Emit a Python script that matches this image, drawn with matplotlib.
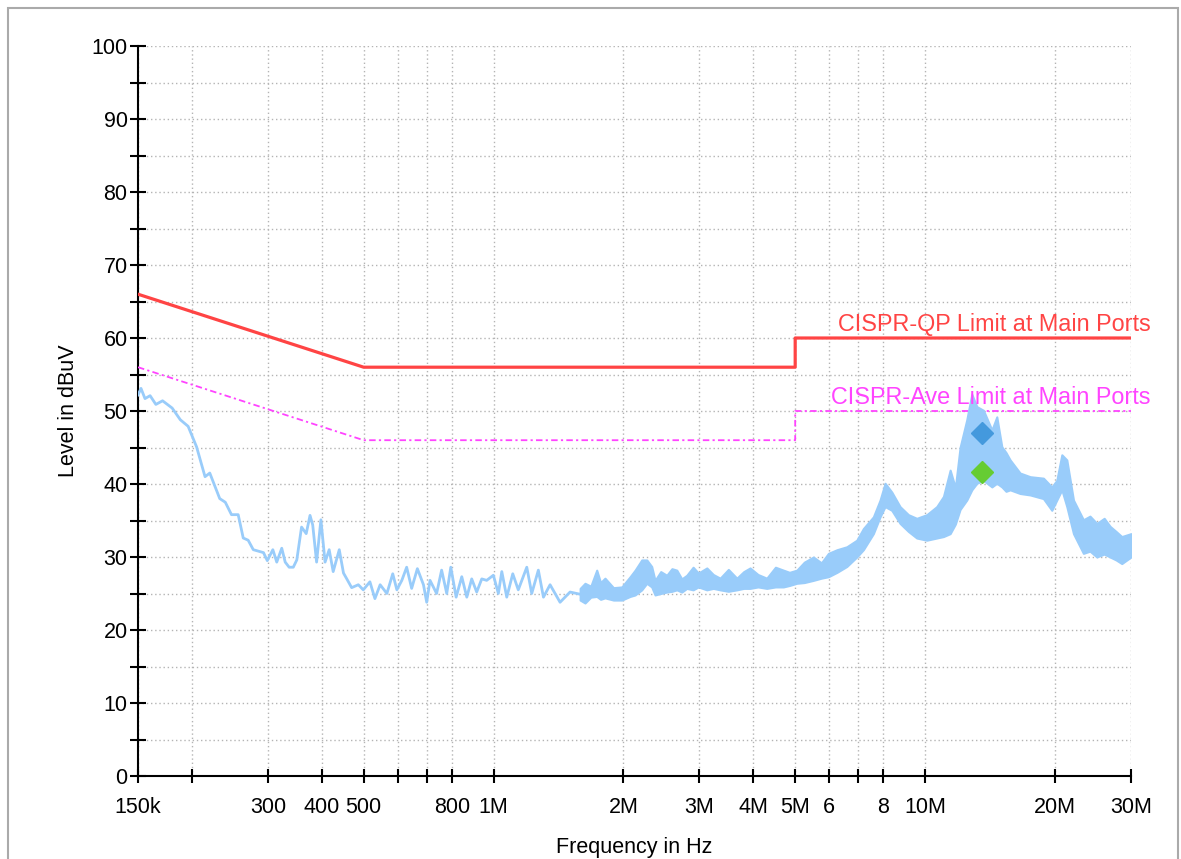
import matplotlib
matplotlib.use("Agg")
import matplotlib.pyplot as plt
from matplotlib.patches import Rectangle
from matplotlib.ticker import FixedLocator, FixedFormatter, MultipleLocator

plt.rcParams['font.family'] = ['Liberation Sans', 'DejaVu Sans']

# limit lines (MHz, dBuV)
qp_f = [0.15, 0.5, 5.0, 5.0, 30.0]
qp_l = [66.0, 56.0, 56.0, 60.0, 60.0]
av_f = [0.15, 0.5, 5.0, 5.0, 30.0]
av_l = [56.0, 46.0, 46.0, 50.0, 50.0]

# measured trace, low part (single line)
lo_f = [0.150, 0.1524, 0.1557, 0.160, 0.165, 0.171, 0.180, 0.188, 0.196, 0.205,
        0.2145, 0.220, 0.232, 0.239, 0.247, 0.256, 0.263, 0.270, 0.2775, 0.293,
        0.299, 0.308, 0.3145, 0.323, 0.329, 0.336, 0.3435, 0.350, 0.359, 0.368,
        0.3756, 0.381, 0.389, 0.398, 0.407, 0.416, 0.425, 0.439, 0.449,
        0.457, 0.469, 0.486, 0.499, 0.517, 0.531, 0.546, 0.566, 0.584, 0.597,
        0.613, 0.629, 0.646, 0.666, 0.688, 0.700, 0.7125, 0.738, 0.758, 0.779,
        0.796, 0.819, 0.844, 0.867, 0.890, 0.914, 0.939, 0.964, 0.999, 1.026,
        1.045, 1.073, 1.108, 1.141, 1.194, 1.226, 1.270, 1.305, 1.352, 1.426,
        1.504, 1.587]
lo_l = [52.2, 53.1, 51.7, 52.1, 50.9, 51.4, 50.4, 48.8, 47.9, 45.1,
        41.0, 41.5, 38.0, 37.5, 35.8, 35.8, 32.6, 32.3, 31.0, 30.6,
        29.5, 31.0, 29.3, 31.2, 29.3, 28.6, 28.6, 29.6, 34.1, 33.2,
        35.7, 34.4, 29.3, 35.1, 29.3, 31.0, 28.0, 31.0, 27.8,
        27.0, 25.8, 26.2, 25.5, 26.6, 24.3, 26.2, 25.0, 27.7, 25.5,
        26.8, 28.6, 25.7, 28.4, 26.2, 23.8, 26.8, 25.0, 28.2, 25.0,
        28.6, 24.5, 27.3, 24.5, 27.0, 25.2, 27.0, 26.8, 27.5, 25.0,
        28.0, 24.5, 27.7, 25.5, 28.6, 25.0, 28.2, 24.5, 26.2, 23.8,
        25.2, 24.9]

# measured trace, high part (noise band: upper / lower envelope)
band_f = [1.587, 1.629, 1.680, 1.734, 1.770, 1.812, 1.896, 1.982, 2.072, 2.128,
          2.205, 2.265, 2.325, 2.367, 2.440, 2.520, 2.590, 2.658, 2.730, 2.804,
          2.900, 2.983, 3.120, 3.230, 3.350, 3.500, 3.662, 3.800, 3.930, 4.100,
          4.296, 4.500, 4.695, 4.850, 5.044, 5.250, 5.510, 5.750, 5.970, 6.250,
          6.584, 6.945, 7.194, 7.588, 7.864, 8.077, 8.370, 8.749, 9.147, 9.564,
          10.09, 10.64, 11.03, 11.43, 11.75, 12.05, 12.49, 12.83, 13.18, 13.65,
          14.28, 14.66, 15.06, 15.40, 15.74, 16.60, 17.52, 18.80, 19.66, 20.19,
          20.74, 21.30, 22.07, 23.27, 24.10, 25.00, 26.00, 26.83, 27.70, 28.56,
          30.0]
band_hi = [25.7, 26.4, 26.0, 28.2, 26.5, 27.1, 25.8, 25.9, 27.3, 28.2,
           29.6, 29.6, 28.7, 26.8, 28.0, 27.5, 28.4, 28.2, 27.0, 27.5,
           28.6, 27.8, 28.5, 27.6, 27.1, 28.3, 27.1, 28.0, 28.5, 27.6,
           27.1, 28.6, 28.2, 27.9, 28.2, 29.3, 30.0, 29.2, 30.5, 31.0,
           31.4, 32.3, 33.9, 35.5, 37.8, 40.1, 38.9, 36.9, 35.8, 35.3,
           35.8, 36.9, 38.3, 41.9, 39.5, 45.0, 48.8, 52.3, 50.6, 50.1,
           47.4, 49.2, 45.1, 44.3, 43.3, 41.5, 41.0, 40.8, 39.6, 40.5,
           44.0, 43.3, 37.8, 35.1, 35.6, 34.6, 35.3, 34.2, 33.5, 32.8,
           33.2]
band_lo = [24.1, 23.7, 24.5, 24.6, 24.2, 24.4, 24.1, 24.1, 24.6, 24.8,
           25.5, 26.4, 25.9, 24.8, 25.0, 25.2, 25.3, 25.5, 25.2, 25.7,
           25.5, 25.9, 25.5, 25.7, 25.5, 25.3, 25.5, 25.7, 25.7, 25.9,
           25.7, 25.9, 25.9, 26.1, 26.4, 26.5, 26.8, 27.1, 27.3, 27.9,
           28.7, 30.0, 31.0, 33.2, 35.5, 36.9, 36.4, 34.6, 33.5, 32.6,
           32.3, 32.6, 32.8, 33.2, 34.5, 36.5, 37.8, 39.2, 40.1, 40.5,
           39.6, 40.1, 39.6, 39.0, 39.2, 38.7, 38.5, 38.0, 36.4, 37.8,
           39.2, 36.9, 33.2, 30.5, 30.8, 30.0, 30.4, 30.0, 29.6, 29.1,
           30.0]

# final measurement markers at 13.56 MHz
qp_mark_f = [13.56]
qp_mark_l = [47.0]
av_mark_f = [13.56]
av_mark_l = [41.6]

x_ticks = [0.15, 0.2, 0.3, 0.4, 0.5, 0.6, 0.7, 0.8, 1, 2, 3, 4, 5, 6, 7, 8, 10, 20, 30]
x_labels = ['150k', '', '300', '400', '500', '', '', '800', '1M', '2M', '3M', '4M',
            '5M', '6', '', '8', '10M', '20M', '30M']

trace_c = '#99ccfa'

fig = plt.figure(figsize=(11.81, 8.59), dpi=100)
ax = fig.add_axes([138 / 1181, 83 / 859, 993 / 1181, 730 / 859])

ax.plot(av_f, av_l, color='#ff44ff', lw=1.3, linestyle=(0, (3.6, 1.8, 1.2, 1.8)), zorder=3)
ax.plot(qp_f, qp_l, color='#ff4444', lw=2.3, zorder=3)
ax.plot(lo_f, lo_l, color=trace_c, lw=2.0, zorder=4)
ax.fill_between(band_f, band_lo, band_hi, facecolor=trace_c, edgecolor=trace_c, lw=1.5, zorder=4)
ax.plot(qp_mark_f, qp_mark_l, 'D', color='#4499dd', markersize=11, zorder=5)
ax.plot(av_mark_f, av_mark_l, 'D', color='#66cc33', markersize=11, zorder=5)

ax.text(14.5, 61.8, 'CISPR-QP Limit at Main Ports', color='#ff4444', fontsize=16.8,
        ha='center', va='center', zorder=6)
ax.text(14.2, 51.8, 'CISPR-Ave Limit at Main Ports', color='#ff44ff', fontsize=16.8,
        ha='center', va='center', zorder=6)

ax.set_xscale('log')
ax.set_xlim(0.15, 30)
ax.set_ylim(0, 100)
ax.xaxis.set_major_locator(FixedLocator(x_ticks))
ax.xaxis.set_major_formatter(FixedFormatter(x_labels))
ax.xaxis.set_minor_locator(FixedLocator([]))
ax.yaxis.set_major_locator(MultipleLocator(10))
ax.yaxis.set_minor_locator(MultipleLocator(5))

ax.grid(True, which='both', color='#b4b4b4', lw=1.0, linestyle=(0, (1, 2)), zorder=0)
ax.set_axisbelow(True)

for s in ['top', 'right']:
    ax.spines[s].set_visible(False)
for s in ['left', 'bottom']:
    ax.spines[s].set_linewidth(1.5)

ax.tick_params(axis='y', which='both', direction='inout', length=11, width=1.5,
               labelsize=15.5, pad=2)
ax.tick_params(axis='x', which='major', direction='inout', length=10, width=1.5,
               labelsize=15.5, pad=10)

ax.set_xlabel('Frequency in Hz', fontsize=15.5, labelpad=14)
ax.set_ylabel('Level in dBuV', fontsize=15.5, labelpad=9)

fig.patches.append(Rectangle((8 / 1181, -0.02), 1170 / 1181, (851 + 17) / 859,
                             transform=fig.transFigure, fill=False,
                             edgecolor='#aaaaaa', lw=1.5))

fig.savefig('out.png', dpi=100)
